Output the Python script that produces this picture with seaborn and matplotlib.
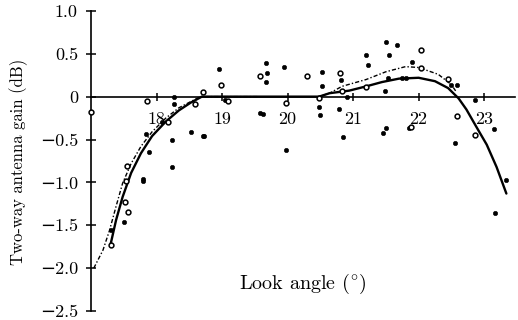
import matplotlib
matplotlib.use("Agg")
import matplotlib.pyplot as plt
import seaborn as sns
import pandas as pd

# Measured gain, solid markers
filled_x = [18.27, 18.26, 18.08, 17.83, 18.23, 18.53, 18.73, 17.89, 18.23, 17.79,
            17.79, 17.50, 17.30, 18.95, 19.05, 18.71, 19.67, 19.68, 19.67, 19.58,
            19.62, 19.95, 19.97, 20.52, 20.82, 20.53, 20.48, 20.50, 20.79, 20.91,
            20.84, 21.20, 21.23, 21.50, 21.67, 21.55, 21.53, 21.48, 21.50, 21.45,
            21.85, 21.80, 21.75, 21.90, 22.50, 22.59, 22.86, 23.15, 22.56, 23.33,
            23.17]
filled_y = [0.00, -0.09, -0.29, -0.44, -0.51, -0.41, -0.46, -0.65, -0.82, -0.96,
            -0.98, -1.46, -1.56, 0.32, -0.04, -0.46, 0.39, 0.28, 0.17, -0.19,
            -0.20, 0.35, -0.62, 0.29, 0.19, 0.12, -0.12, -0.21, -0.14, -0.01,
            -0.47, 0.49, 0.37, 0.64, 0.60, 0.48, 0.22, 0.07, -0.36, -0.42,
            -0.36, 0.22, 0.22, 0.40, 0.14, 0.14, -0.04, -0.38, -0.54, -0.97,
            -1.36]

# Measured gain, open markers
open_x = [17.00, 17.86, 18.59, 18.71, 18.18, 17.55, 17.53, 17.52, 17.56, 17.30,
          18.98, 19.09, 19.58, 19.98, 20.30, 20.80, 20.48, 20.83, 21.20, 22.03,
          22.03, 22.45, 22.58, 21.88, 22.86]
open_y = [-0.18, -0.05, -0.08, 0.05, -0.30, -0.81, -0.98, -1.23, -1.34, -1.73,
          0.13, -0.05, 0.24, -0.07, 0.24, 0.28, -0.02, 0.06, 0.11, 0.54,
          0.33, 0.21, -0.23, -0.35, -0.45]

# Fitted pattern (solid)
fit_x = [17.30, 17.38, 17.48, 17.61, 17.76, 17.93, 18.14, 18.34, 18.52, 18.69,
         19.60, 20.48, 20.64, 20.94, 21.20, 21.44, 21.70, 22.00, 22.25, 22.45,
         22.61, 22.73, 22.88, 23.04, 23.19, 23.34]
fit_y = [-1.71, -1.44, -1.17, -0.89, -0.66, -0.46, -0.29, -0.16, -0.07, 0.00,
         0.00, 0.00, 0.04, 0.07, 0.12, 0.17, 0.21, 0.22, 0.18, 0.10,
         -0.02, -0.15, -0.35, -0.56, -0.82, -1.13]

# Model pattern (dash-dot), left and right branches
model_left_x = [17.04, 17.18, 17.28, 17.38, 17.48, 17.61, 17.76, 17.93, 18.14, 18.34,
                18.54, 18.67, 19.55]
model_left_y = [-2.00, -1.79, -1.56, -1.28, -1.01, -0.78, -0.58, -0.41, -0.25, -0.13,
                -0.05, 0.00, 0.00]
model_right_x = [20.48, 20.64, 20.83, 21.20, 21.50, 21.80, 22.00, 22.30, 22.50, 22.58]
model_right_y = [0.00, 0.04, 0.12, 0.20, 0.29, 0.35, 0.34, 0.26, 0.14, 0.05]

x_ticks = [18, 19, 20, 21, 22, 23]
y_ticks = [1.0, 0.5, 0.0, -0.5, -1.0, -1.5, -2.0, -2.5]
y_tick_labels = ["1.0", "0.5", "0", "−0.5", "−1.0", "−1.5", "−2.0", "−2.5"]

sns.set_theme(style="white")
plt.rcParams["font.family"] = "serif"
plt.rcParams["font.serif"] = ["cmr10", "DejaVu Serif"]
plt.rcParams["mathtext.fontset"] = "cm"
plt.rcParams["axes.formatter.use_mathtext"] = True

fig = plt.figure(figsize=(5.18, 3.2), dpi=100)
ax = fig.add_axes([0.176, 0.028, 0.818, 0.938])

left_df = pd.DataFrame({"x": model_left_x, "y": model_left_y})
right_df = pd.DataFrame({"x": model_right_x, "y": model_right_y})
fit_df = pd.DataFrame({"x": fit_x, "y": fit_y})
dash = (0, (3, 1.5, 1, 1.5))
sns.lineplot(data=left_df, x="x", y="y", ax=ax, color="black", lw=1.0,
             linestyle=dash, sort=False, estimator=None, zorder=3)
sns.lineplot(data=right_df, x="x", y="y", ax=ax, color="black", lw=1.0,
             linestyle=dash, sort=False, estimator=None, zorder=3)
sns.lineplot(data=fit_df, x="x", y="y", ax=ax, color="black", lw=1.7,
             sort=False, estimator=None, zorder=4)

filled_df = pd.DataFrame({"x": filled_x, "y": filled_y})
open_df = pd.DataFrame({"x": open_x, "y": open_y})
sns.scatterplot(data=filled_df, x="x", y="y", ax=ax, color="black", s=10,
                edgecolor="black", linewidth=0.4, zorder=5, clip_on=False)
sns.scatterplot(data=open_df, x="x", y="y", ax=ax, color="white", s=12,
                edgecolor="black", linewidth=1.1, zorder=5, clip_on=False)

ax.set_xlim(17.0, 23.47)
ax.set_ylim(-2.5, 1.0)
ax.spines["top"].set_visible(False)
ax.spines["right"].set_visible(False)
ax.spines["left"].set_position(("data", 17.0))
ax.spines["bottom"].set_position(("data", 0.0))
for s in ("left", "bottom"):
    ax.spines[s].set_color("black")
    ax.spines[s].set_linewidth(1.2)

ax.set_xticks(x_ticks)
ax.set_xticklabels([str(t) for t in x_ticks])
ax.set_yticks(y_ticks)
ax.set_yticklabels(y_tick_labels)
ax.tick_params(axis="x", direction="inout", length=6, width=1.1, labelsize=13,
               pad=8, colors="black", bottom=True)
ax.tick_params(axis="y", direction="inout", length=7, width=1.1, labelsize=13,
               pad=6, colors="black", left=True)
for lab in ax.get_xticklabels() + ax.get_yticklabels():
    lab.set_fontfamily(["cmr10", "DejaVu Serif"])

ax.set_xlabel("Look angle ($^{\\circ}$)", fontsize=14.5, color="black")
ax.xaxis.set_label_coords(0.5, 0.13)
ax.set_ylabel("Two-way antenna gain (dB)", fontsize=12, color="black")
ax.yaxis.set_label_coords(-0.148, 0.497)
ax.patch.set_visible(False)

fig.savefig("out.png", dpi=100)
